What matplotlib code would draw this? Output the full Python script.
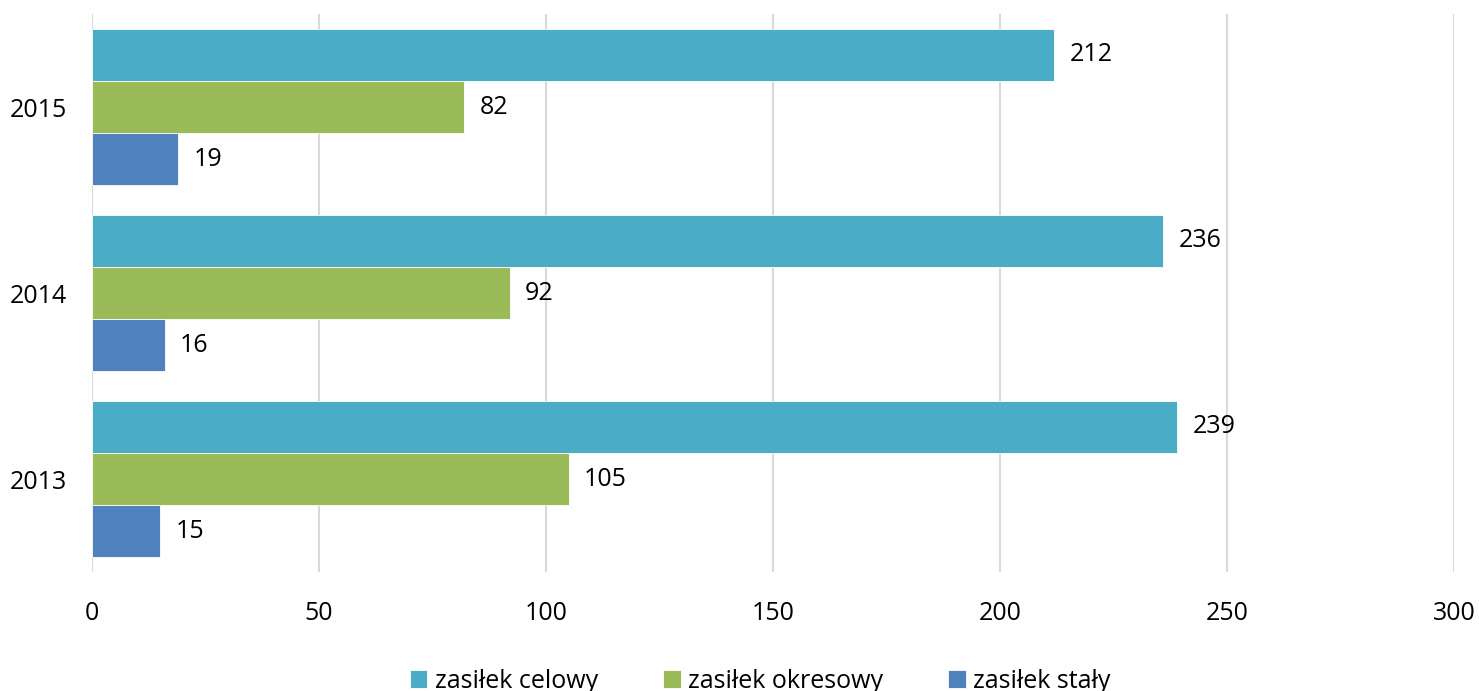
import numpy as np
import matplotlib.pyplot as plt

years = ['2013', '2014', '2015']
celowy = [239, 236, 212]
okresowy = [105, 92, 82]
staly = [15, 16, 19]
labels = ['zasiłek celowy', 'zasiłek okresowy', 'zasiłek stały']
colors = ['#4BACC6', '#9BBB59', '#4F81BD']

plt.rcParams['font.family'] = ['Open Sans', 'DejaVu Sans']

fig = plt.figure(figsize=(14.79, 6.91), dpi=100)
ax = fig.add_axes([0.0622, 0.1722, 0.9209, 0.8075])

y = np.arange(len(years))
h = 0.28
series = [celowy, okresowy, staly]
offsets = [h, 0, -h]
for vals, off, col, lab in zip(series, offsets, colors, labels):
    bars = ax.barh(y + off, vals, height=h, color=col, edgecolor='white',
                   linewidth=0.6, label=lab, zorder=3)
    for b, v in zip(bars, vals):
        ax.annotate(str(v), (b.get_width(), b.get_y() + b.get_height() / 2),
                    xytext=(11, 0), textcoords='offset points',
                    va='center', ha='left', fontsize=18)

ax.set_xlim(0, 300)
ax.set_ylim(-0.5, 2.5)
ax.set_xticks(range(0, 301, 50))
ax.set_yticks(y)
ax.set_yticklabels(years)
ax.tick_params(axis='both', length=0, labelsize=18)
ax.tick_params(axis='x', pad=21)
ax.tick_params(axis='y', pad=18)
ax.grid(axis='x', color='#D9D9D9', linewidth=1.5, zorder=0)
for s in ax.spines.values():
    s.set_visible(False)

fig.legend(loc='center', bbox_to_anchor=(0.514, 0.014), ncol=3, frameon=False,
           fontsize=18, handlelength=0.7, handleheight=0.7, handletextpad=0.3,
           columnspacing=2.6)

fig.savefig('out.png', dpi=100)
